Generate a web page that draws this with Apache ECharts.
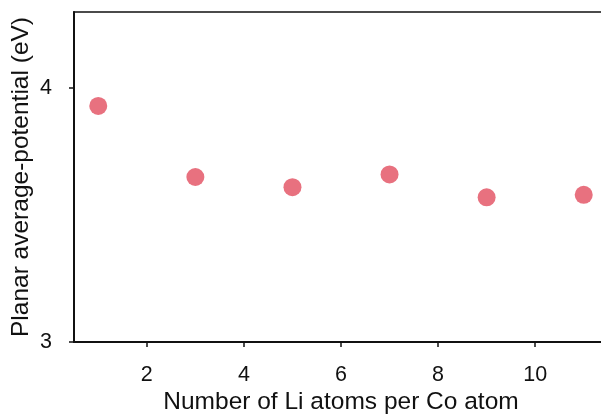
<!DOCTYPE html>
<html>
<head>
<meta charset="utf-8">
<script src="https://cdn.jsdelivr.net/npm/echarts@6/dist/echarts.min.js"></script>
<style>
  html, body { margin: 0; padding: 0; overflow: hidden; background: #fff; }
  #chart { width: 610px; height: 414px; }
</style>
</head>
<body>
<div id="chart"></div>
<script>
// Li atoms per Co atom and the planar average potential (eV) at each count
const liPerCo = [1, 3, 5, 7, 9, 11];
const potential = [3.93, 3.65, 3.61, 3.66, 3.57, 3.58];
const xTicks = [2, 4, 6, 8, 10];
const yTicks = [3, 4];

const chart = echarts.init(document.getElementById('chart'), null, { renderer: 'canvas' });
const font = 'Liberation Sans, Arial, sans-serif';

chart.setOption({
  animation: false,
  backgroundColor: '#fff',
  grid: {
    left: 74, right: 2, top: 12, bottom: 72,
    containLabel: false, outerBoundsMode: 'none',
    show: true, borderColor: '#111', borderWidth: 1.5, backgroundColor: 'transparent'
  },
  xAxis: {
    type: 'value', min: 0.5, max: 11.5,
    name: 'Number of Li atoms per Co atom',
    nameLocation: 'middle', nameGap: 48, nameMoveOverlap: false,
    nameTextStyle: { fontFamily: font, fontSize: 24.5, color: '#111' },
    axisLine: { show: true, onZero: false, lineStyle: { color: '#111', width: 2 } },
    axisTick: { show: true, customValues: xTicks, length: 5, lineStyle: { color: '#111', width: 1.5 } },
    axisLabel: { customValues: xTicks, margin: 22, fontFamily: font, fontSize: 21.5, color: '#111' },
    splitLine: { show: false }
  },
  yAxis: {
    type: 'value', min: 3, max: 4.3,
    name: 'Planar average-potential (eV)',
    nameLocation: 'middle', nameGap: 40, nameMoveOverlap: false,
    nameTextStyle: { fontFamily: font, fontSize: 24.5, color: '#111' },
    axisLine: { show: true, onZero: false, lineStyle: { color: '#111', width: 2 } },
    axisTick: { show: true, customValues: yTicks, length: 5, lineStyle: { color: '#111', width: 1.5 } },
    axisLabel: { customValues: yTicks, margin: 22, fontFamily: font, fontSize: 21.5, color: '#111' },
    splitLine: { show: false }
  },
  series: [{
    type: 'scatter',
    data: liPerCo.map((x, i) => [x, potential[i]]),
    symbol: 'circle',
    symbolSize: 18,
    itemStyle: { color: '#e8717f', opacity: 1 }
  }]
});
</script>
</body>
</html>
